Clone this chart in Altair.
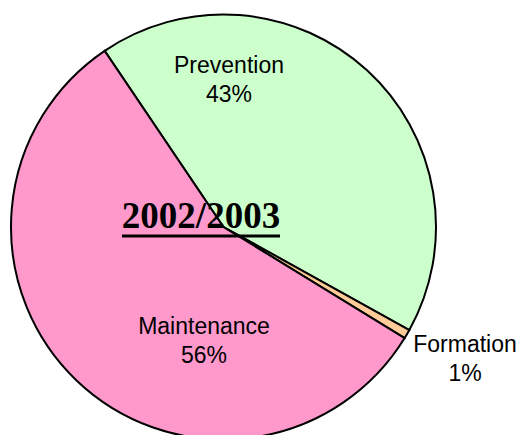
import math
import altair as alt
import pandas as pd

categories = ["Prevention", "Formation", "Maintenance"]
values = [42.5, 0.7, 56.8]
labels = ["43%", "1%", "56%"]
title_text = "2002/2003"

colors = ["#CCFFCC", "#FFCC99", "#FF99CC"]

df = pd.DataFrame({"category": categories, "value": values, "label": labels,
                   "idx": list(range(len(categories)))})

W, H = 510, 427
CX, CY, R = 215.5, 219, 212.5
start = math.radians(326)

pie = alt.Chart(df).mark_arc(radius=R, stroke="black", strokeWidth=2).encode(
    theta=alt.Theta("value:Q", stack=True,
                    scale=alt.Scale(range=[start, start + 2 * math.pi])),
    color=alt.Color("category:N", scale=alt.Scale(domain=categories, range=colors), legend=None),
    order=alt.Order("idx:Q"),
    x=alt.value(CX), y=alt.value(CY),
)

# label placement (layout only)
label_pos = {"Prevention": (221, 65), "Maintenance": (196, 326), "Formation": (457, 344)}

layers = [pie]
for cat in categories:
    lx, ly = label_pos[cat]
    layers.append(
        alt.Chart(df).transform_filter(alt.datum.category == cat)
        .transform_calculate(txt="[datum.category, datum.label]")
        .mark_text(font="Liberation Sans", fontSize=23, color="black", align="center",
                   baseline="alphabetic", lineHeight=29)
        .encode(text=alt.Text("txt:N"), x=alt.value(lx), y=alt.value(ly))
    )

title_df = pd.DataFrame({"t": [title_text]})
layers.append(
    alt.Chart(title_df).mark_text(font="Liberation Serif", fontWeight="bold", fontSize=37,
                                  color="black", align="center", baseline="alphabetic")
    .encode(text="t:N", x=alt.value(193), y=alt.value(220))
)
layers.append(
    alt.Chart(title_df).mark_rule(color="black", strokeWidth=3)
    .encode(x=alt.value(114), x2=alt.value(272), y=alt.value(228))
)

chart = alt.layer(*layers).properties(
    width=W, height=H, padding=0, autosize=alt.AutoSizeParams(type="none")
).configure_view(stroke=None)

chart.save("out.html", embed_options={"renderer": "svg", "actions": False})
